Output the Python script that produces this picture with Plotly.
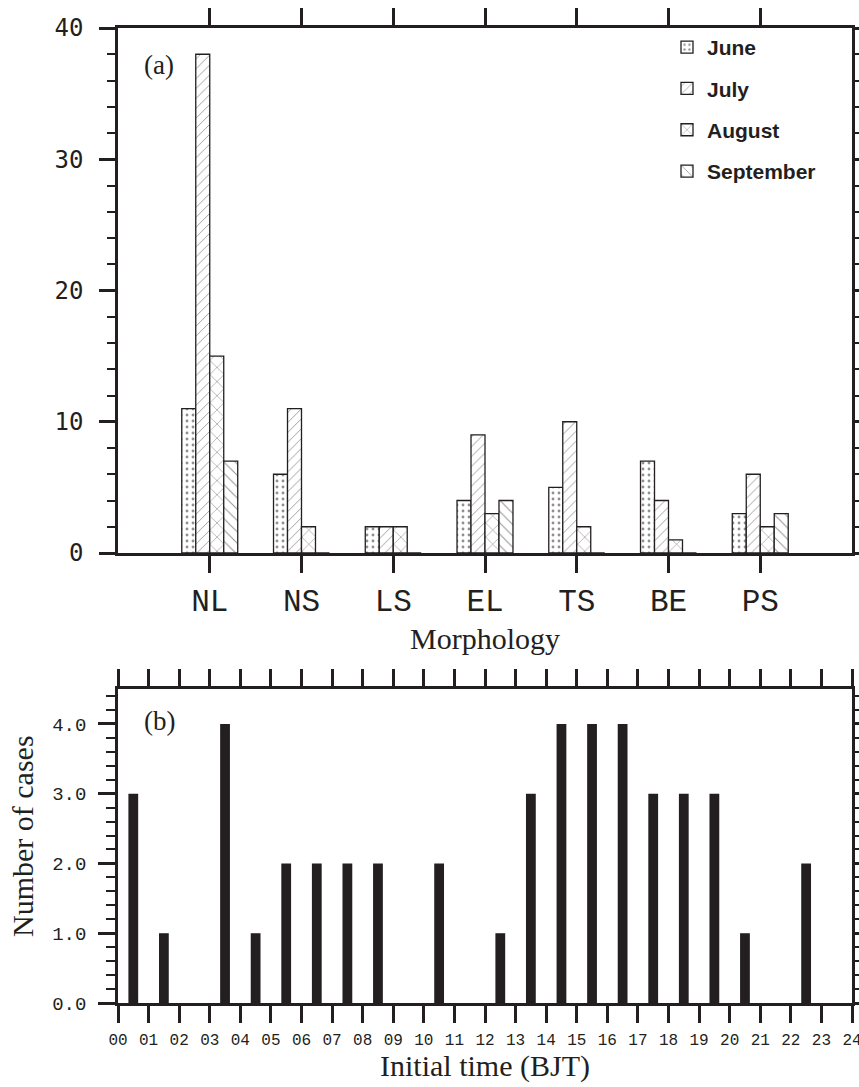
import plotly.graph_objects as go

# ---------------- data ----------------
morph_cats = ["NL", "NS", "LS", "EL", "TS", "BE", "PS"]
june = [11, 6, 2, 4, 5, 7, 3]
july = [38, 11, 2, 9, 10, 4, 6]
august = [15, 2, 2, 3, 2, 1, 2]
september = [7, 0, 0, 4, 0, 0, 3]

month_names = ["June", "July", "August", "September"]

hours = [h + 0.5 for h in range(24)]
hour_counts = [3, 1, 0, 4, 1, 2, 2, 2, 2, 0, 2, 0,
               1, 3, 4, 4, 4, 3, 3, 3, 1, 0, 2, 0]
hour_tick_vals = list(range(25))
hour_tick_text = ["%02d" % h for h in hour_tick_vals]

# ---------------- layout helpers ----------------
W, H = 859, 1087


def px(x):
    return x / W


def py(y):
    return 1 - y / H


SERIF = "Liberation Serif"
MONO = "Liberation Mono"
INK = "#231f20"

fig = go.Figure()

patterns = [
    dict(shape=".", size=6, solidity=0.18),
    dict(shape="/", size=7, solidity=0.12),
    dict(shape="x", size=10, solidity=0.12),
    dict(shape="\\", size=8, solidity=0.12),
]
series = [june, july, august, september]

for i, (name, vals) in enumerate(zip(month_names, series)):
    pat = dict(patterns[i])
    pat.update(fgcolor=INK, bgcolor="white", fillmode="overlay")
    fig.add_trace(go.Bar(
        x=morph_cats, y=vals, name=name,
        marker=dict(color="white", line=dict(color=INK, width=1.3), pattern=pat),
        xaxis="x", yaxis="y", legendgroup=name,
    ))

fig.add_trace(go.Bar(
    x=hours, y=hour_counts, width=0.32, showlegend=False,
    marker=dict(color=INK, line=dict(width=0)),
    xaxis="x2", yaxis="y2",
))

axis_common = dict(
    showline=True, linecolor=INK, linewidth=2.5, mirror="ticks",
    ticks="outside", tickcolor=INK, tickwidth=2.5, showgrid=False,
    zeroline=False, automargin=False,
)

fig.update_layout(
    template="none",
    width=W, height=H,
    margin=dict(l=0, r=0, t=0, b=0, autoexpand=False),
    paper_bgcolor="white", plot_bgcolor="white",
    barmode="group", bargap=0.39, bargroupgap=0,
    showlegend=True,
    legend=dict(
        x=px(667), y=py(27), xanchor="left", yanchor="top",
        font=dict(family="Liberation Sans", size=21, color=INK, weight="bold"),
        bgcolor="rgba(0,0,0,0)", tracegroupgap=11, itemwidth=30,
        traceorder="grouped", borderwidth=0,
    ),
    xaxis=dict(
        axis_common, domain=[px(118), px(852)], anchor="y",
        type="category", range=[-1, 7], ticklen=17,
        tickfont=dict(family=MONO, size=31, color=INK),
        ticklabelstandoff=1,
    ),
    yaxis=dict(
        axis_common, domain=[py(553), py(28)], anchor="x",
        range=[0, 40], tickvals=[0, 10, 20, 30, 40], ticklen=16,
        tickfont=dict(family="DejaVu Sans Mono", size=24, color=INK),
        ticklabelstandoff=11,
        minor=dict(dtick=2, ticks="outside", ticklen=8, tickwidth=2, tickcolor=INK),
    ),
    xaxis2=dict(
        axis_common, domain=[px(118), px(852)], anchor="y2",
        range=[0, 24], tickvals=hour_tick_vals, ticktext=hour_tick_text,
        ticklen=17, tickfont=dict(family=MONO, size=16, color=INK),
        ticklabelstandoff=3, ticklabeloverflow="allow",
    ),
    yaxis2=dict(
        axis_common, domain=[py(1003), py(689)], anchor="x2",
        range=[0, 4.5], tickvals=[0, 1, 2, 3, 4], tickformat=".1f",
        ticklen=17, tickfont=dict(family=MONO, size=19, color=INK),
        ticklabelstandoff=8,
        minor=dict(dtick=0.2, ticks="outside", ticklen=9, tickwidth=2, tickcolor=INK),
    ),
)

annotations = [
    dict(text="(a)", x=px(142), y=py(65), xanchor="left", yanchor="middle",
         font=dict(family=SERIF, size=27, color=INK)),
    dict(text="(b)", x=px(142), y=py(721), xanchor="left", yanchor="middle",
         font=dict(family=SERIF, size=27, color=INK)),
    dict(text="Morphology", x=px(485), y=py(638), xanchor="center", yanchor="middle",
         font=dict(family=SERIF, size=30, color=INK)),
    dict(text="Initial time (BJT)", x=px(485), y=py(1066), xanchor="center", yanchor="middle",
         font=dict(family=SERIF, size=30, color=INK)),
    dict(text="Number of cases", x=px(22), y=py(836), xanchor="center", yanchor="middle",
         textangle=-90, font=dict(family=SERIF, size=30, color=INK)),
]
for a in annotations:
    a.update(xref="paper", yref="paper", showarrow=False)
fig.update_layout(annotations=annotations)

# remove the default 8px page margin so the figure fills the window
fig.write_html(
    "out.html",
    config={"displayModeBar": False},
    post_script="document.body.style.margin='0';document.body.style.overflow='hidden';",
)
